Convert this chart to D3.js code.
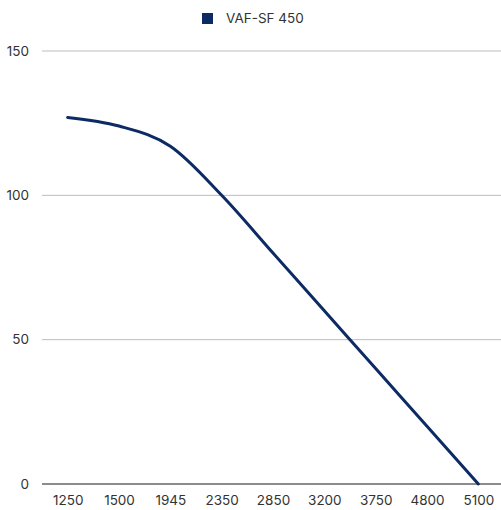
<!DOCTYPE html>
<html>
<head>
<meta charset="utf-8">
<script src="https://cdn.jsdelivr.net/npm/d3@7"></script>
<style>
  body { margin: 0; background: #fff; }
  text { font-family: Inter, "Noto Sans", sans-serif; fill: #333; }
</style>
</head>
<body>
<script>
let categories = ["1250", "1500", "1945", "2350", "2850", "3200", "3750", "4800", "5100"];
let values = [127, 124, 117, 100, 80, 60, 40, 20, 0];
let yTicks = [0, 50, 100, 150];
let seriesName = "VAF-SF 450";
let lineColor = "#0c2a63";

let width = 501, height = 510;
let margin = {top: 51, right: 0, bottom: 26, left: 42};

let svg = d3.select("body").append("svg")
    .attr("width", width)
    .attr("height", height);

let x = d3.scalePoint()
    .domain(categories)
    .range([margin.left, width + 3])
    .padding(0.5);

let y = d3.scaleLinear()
    .domain([0, 150])
    .range([height - margin.bottom, margin.top]);

    // gridlines
svg.append("g")
    .selectAll("line")
    .data(yTicks.filter(d => d > 0))
    .enter().append("line")
    .attr("x1", margin.left)
    .attr("x2", width)
    .attr("y1", d => y(d))
    .attr("y2", d => y(d))
    .attr("stroke", "#bdbdbd")
    .attr("stroke-width", 1);

    // y labels
svg.append("g")
    .selectAll("text")
    .data(yTicks)
    .enter().append("text")
    .attr("x", 29)
    .attr("y", d => y(d))
    .attr("dy", "0.35em")
    .attr("text-anchor", "end")
    .style("font-size", "13.5px")
    .text(d => d);

    // x axis
let xAxis = d3.axisBottom(x).tickSize(0).tickPadding(11);
let gx = svg.append("g")
    .attr("transform", "translate(0," + y(0) + ")")
    .call(xAxis);
gx.select(".domain").remove();
gx.selectAll("text")
    .style("font-size", "13.5px")
    .style("font-family", "Inter, 'Noto Sans', sans-serif")
    .attr("fill", "#333");
svg.append("line")
    .attr("x1", margin.left)
    .attr("x2", width)
    .attr("y1", y(0))
    .attr("y2", y(0))
    .attr("stroke", "#666")
    .attr("stroke-width", 1.5);

    // the series line
let line = d3.line()
    .x((d, i) => x(categories[i]))
    .y(d => y(d))
    .curve(d3.curveMonotoneX);

svg.append("path")
    .datum(values)
    .attr("d", line)
    .attr("fill", "none")
    .attr("stroke", lineColor)
    .attr("stroke-width", 3)
    .attr("stroke-linejoin", "round")
    .attr("stroke-linecap", "round");

    // legend
let legend = svg.append("g").attr("transform", "translate(202,13)");
legend.append("rect")
    .attr("width", 11)
    .attr("height", 11)
    .attr("fill", lineColor);
legend.append("text")
    .attr("x", 24)
    .attr("y", 10)
    .style("font-size", "13.5px")
    .text(seriesName);
</script>
</body>
</html>
